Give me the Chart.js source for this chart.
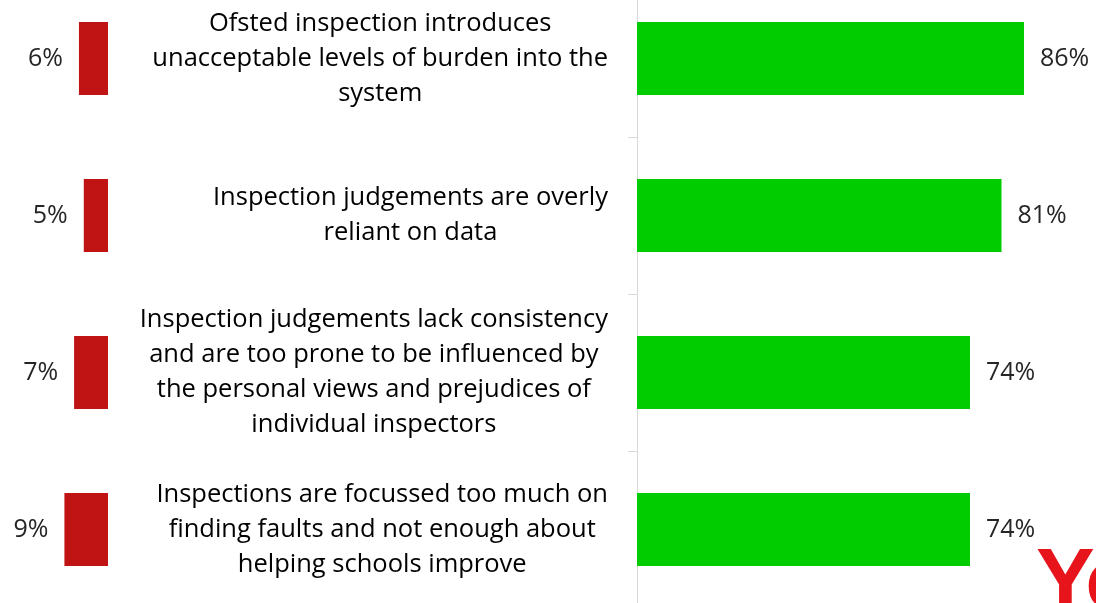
<!DOCTYPE html>
<html>
<head>
<meta charset="utf-8">
<script src="https://cdn.jsdelivr.net/npm/chart.js@4"></script>
<style>
  html, body { margin: 0; padding: 0; background: #fff; overflow: hidden; }
  #wrap { position: relative; width: 1096px; height: 603px; overflow: hidden; }
  /* the plot runs a little past the top and bottom of the picture */
  #rightBox { position: absolute; left: 0; top: -20px; width: 1096px; height: 628px; }
  #leftBox { position: absolute; left: 0; top: -20px; width: 120px; height: 628px; }
  #logo { position: absolute; left: 1036px; top: 528px; font: bold 88px "Liberation Sans", Arial, sans-serif;
          color: #e8141c; letter-spacing: -3px; white-space: nowrap; }
</style>
</head>
<body>
<div id="wrap">
  <div id="rightBox"><canvas id="agreeChart"></canvas></div>
  <div id="leftBox"><canvas id="disagreeChart"></canvas></div>
  <div id="logo">YouGov</div>
</div>
<script>
const statements = [
  ['Ofsted inspection introduces', 'unacceptable levels of burden into the', 'system'],
  ['Inspection judgements are overly', 'reliant on data'],
  ['Inspection judgements lack consistency', 'and are too prone to be influenced by', 'the personal views and prejudices of', 'individual inspectors'],
  ['Inspections are focussed too much on', 'finding faults and not enough about', 'helping schools improve']
];
const disagree = [6, 5, 7, 9];
const agree = [86, 81, 74, 74];

const FONT = '"Open Sans", sans-serif';

// writes "NN%" just past the end of each bar
const valueLabels = {
  id: 'valueLabels',
  afterDatasetsDraw(chart) {
    const ctx = chart.ctx;
    const meta = chart.getDatasetMeta(0);
    const vals = chart.data.datasets[0].data;
    const leftSide = chart.scales.x.options.reverse;
    ctx.save();
    ctx.font = '25px ' + FONT;
    ctx.fillStyle = '#262626';
    ctx.textBaseline = 'middle';
    meta.data.forEach((bar, i) => {
      if (leftSide) {
        ctx.textAlign = 'right';
        ctx.fillText(vals[i] + '%', bar.x - 16, bar.y);
      } else {
        ctx.textAlign = 'left';
        ctx.fillText(vals[i] + '%', bar.x + 16, bar.y);
      }
    });
    ctx.restore();
  }
};

// statement text, each block centred on its own widest line, right edge fixed
const statementLabels = {
  id: 'statementLabels',
  afterDraw(chart) {
    const ctx = chart.ctx;
    const y = chart.scales.y;
    const right = chart.chartArea.left - 29;
    const lh = 35;
    ctx.save();
    ctx.font = '25.5px ' + FONT;
    ctx.fillStyle = '#000';
    ctx.textAlign = 'center';
    ctx.textBaseline = 'middle';
    chart.data.labels.forEach((lines, i) => {
      const widest = Math.max(...lines.map(l => ctx.measureText(l).width));
      const cx = right - widest / 2;
      const cy = y.getPixelForValue(i);
      const top = cy - (lines.length - 1) * lh / 2;
      lines.forEach((l, k) => ctx.fillText(l, cx, top + k * lh));
    });
    ctx.restore();
  }
};

const agreeChart = new Chart(document.getElementById('agreeChart'), {
  type: 'bar',
  data: {
    labels: statements,
    datasets: [{
      data: agree,
      backgroundColor: '#00cc00',
      categoryPercentage: 1,
      barPercentage: 0.465
    }]
  },
  options: {
    indexAxis: 'y',
    responsive: true,
    maintainAspectRatio: false,
    animation: false,
    layout: { padding: 0 },
    plugins: { legend: { display: false }, tooltip: { enabled: false } },
    scales: {
      x: { display: false, min: 0, max: 102 },
      y: {
        position: 'left',
        ticks: { display: false },
        grid: { offset: true, drawOnChartArea: false, tickLength: 9, color: '#d9d9d9' },
        border: { display: true, color: '#d9d9d9', width: 1 },
        afterFit(scale) { scale.width = 637; }
      }
    }
  },
  plugins: [valueLabels, statementLabels]
});

const disagreeChart = new Chart(document.getElementById('disagreeChart'), {
  type: 'bar',
  data: {
    labels: statements.map(s => s.join(' ')),
    datasets: [{
      data: disagree,
      backgroundColor: '#c01414',
      categoryPercentage: 1,
      barPercentage: 0.465
    }]
  },
  options: {
    indexAxis: 'y',
    responsive: true,
    maintainAspectRatio: false,
    animation: false,
    layout: { padding: { left: 0, right: 12, top: 0, bottom: 0 } },
    plugins: { legend: { display: false }, tooltip: { enabled: false } },
    scales: {
      x: { display: false, reverse: true, min: 0, max: 22.3 },
      y: { display: false }
    }
  },
  plugins: [valueLabels]
});
</script>
</body>
</html>
